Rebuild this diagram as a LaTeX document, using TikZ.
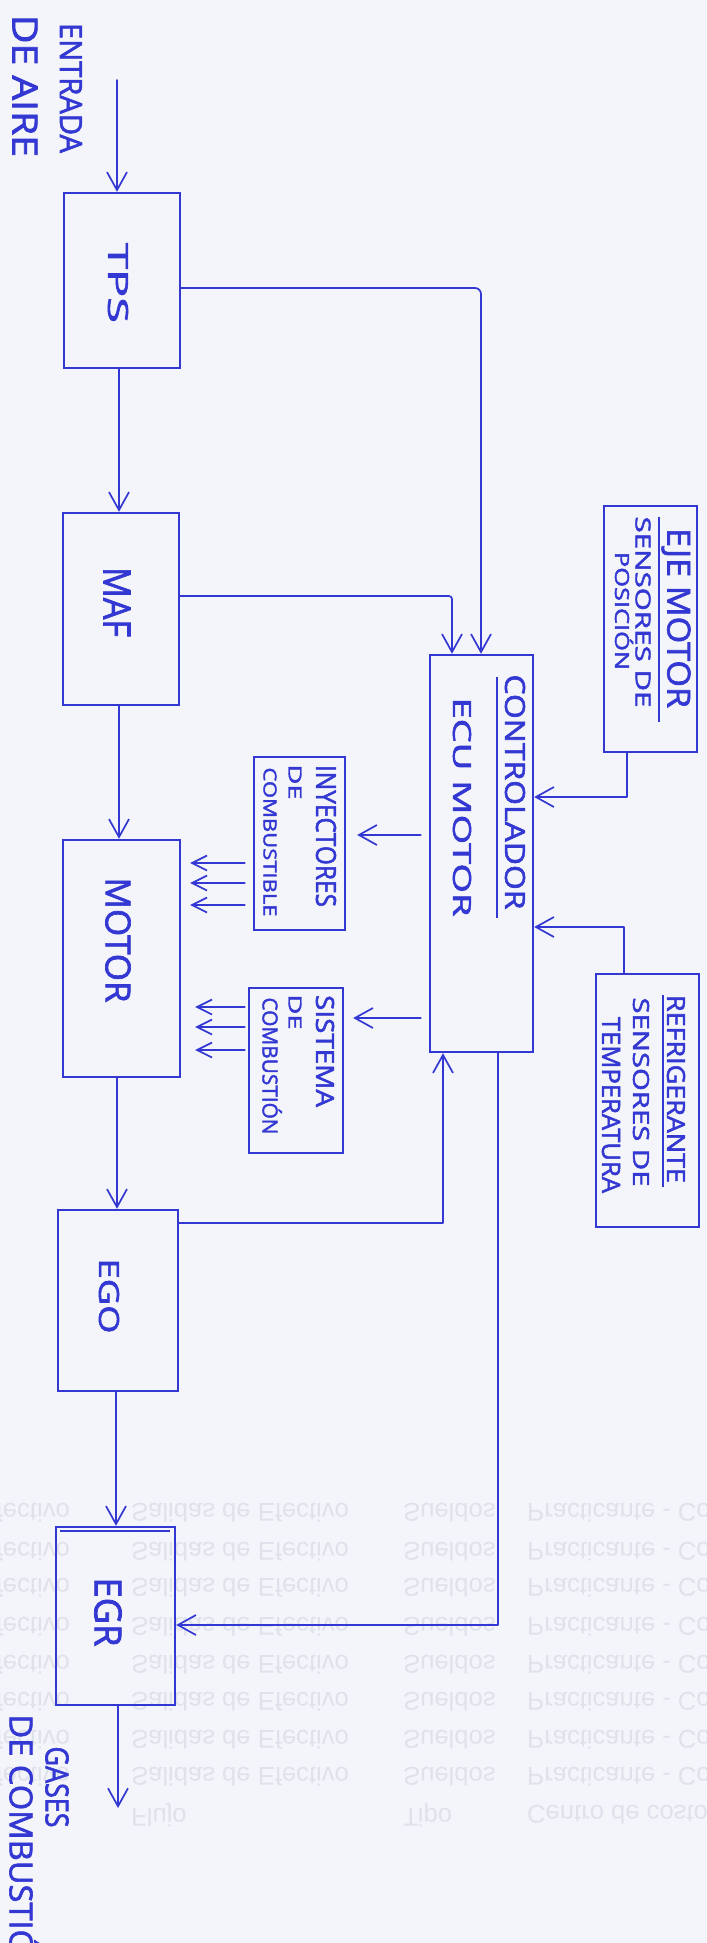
\documentclass[tikz,border=0pt]{standalone}
\usepackage{fontspec}
\setmainfont{Open Sans}[FakeBold=2]
\newfontfamily\bleedfont{Liberation Sans}
\usetikzlibrary{arrows.meta}
\definecolor{ink}{RGB}{52,56,210}
\definecolor{paper}{RGB}{244,245,251}
\definecolor{ghost}{RGB}{224,226,235}
\newcommand{\hw}[3]{\resizebox{#1bp}{#2bp}{#3}}
\newcommand{\flipv}[1]{\scalebox{1}[-1]{#1}}
\begin{document}
\begin{tikzpicture}[x=1bp,y=-1bp,
  box/.style={draw=ink, line width=2.4bp, inner sep=0pt, rectangle},
  conn/.style={draw=ink, line width=1.7bp, line cap=round, line join=round,
    -{Straight Barb[length=18bp,width=20bp]}},
  small/.style={draw=ink, line width=1.7bp, line cap=round,
    -{Straight Barb[length=15bp,width=15bp]}},
  rulel/.style={draw=ink, line width=1.6bp},
  txt/.style={rotate=-90, inner sep=0pt, text=ink},
  ghosttxt/.style={inner sep=0pt, text=ghost,
    font=\bleedfont\fontsize{25.6bp}{30bp}\selectfont}]
\useasboundingbox (0,0) rectangle (707,1943);
\fill[paper] (0,0) rectangle (707,1943);

% faint show-through of the back of the sheet
\foreach \yy [count=\i] in {1513,1552,1588,1627,1665,1702,1740,1777}{
  \node[ghosttxt, anchor=east] (ga\i) at (70,\yy) {\flipv{Efectivo}};
  \node[ghosttxt, anchor=west] (gb\i) at (131,\yy) {\flipv{Salidas de Efectivo}};
  \node[ghosttxt, anchor=west] (gc\i) at (403,\yy) {\flipv{Sueldos}};
  \node[ghosttxt, anchor=west] (gd\i) at (527,\yy) {\flipv{Practicante - Co}};
}
\node[ghosttxt, anchor=west] (gh1) at (131,1815) {\flipv{Flujo}};
\node[ghosttxt, anchor=west] (gh2) at (403,1815) {\flipv{Tipo}};
\node[ghosttxt, anchor=west] (gh3) at (527,1815) {\flipv{Centro de costo}};

% boxes
\node[box, minimum width=116bp, minimum height=175bp] (tps) at (122,280.5) {};
\node[box, minimum width=116bp, minimum height=192bp] (maf) at (121,609) {};
\node[box, minimum width=117bp, minimum height=237bp] (motor) at (121.5,958.5) {};
\node[box, minimum width=120bp, minimum height=181bp] (ego) at (118,1300.5) {};
\node[box, minimum width=119bp, minimum height=178bp] (egr) at (115.5,1616) {};
\node[box, minimum width=103bp, minimum height=397bp] (ecu) at (481.5,853.5) {};
\node[box, minimum width=93bp, minimum height=246bp] (eje) at (650.5,629) {};
\node[box, minimum width=103bp, minimum height=253bp] (ref) at (647.5,1100.5) {};
\node[box, minimum width=91bp, minimum height=173bp] (iny) at (299.5,843.5) {};
\node[box, minimum width=94bp, minimum height=165bp] (sis) at (296,1070.5) {};
\draw[ink, line width=1.5bp] (60,1531) -- (170,1531);

% rules inside boxes
\draw[rulel] (497,677) -- (497,918);
\draw[rulel] (659,517) -- (659,722);
\draw[rulel] (663,995) -- (663,1187);

% texts
\node[txt] (t1) at (71,88) {\hw{130}{22}{ENTRADA}};
\node[txt] (t2) at (25,86) {\hw{142}{25}{DE AIRE}};
\node[txt] (ttps) at (118,283) {\hw{80}{20}{TPS}};
\node[txt] (tmaf) at (117,602) {\hw{70}{27}{MAF}};
\node[txt] (tmot) at (118,940) {\hw{125}{25}{MOTOR}};
\node[txt] (tego) at (109,1296) {\hw{75}{20}{EGO}};
\node[txt] (tegr) at (108,1612) {\hw{69}{27}{EGR}};
\node[txt] (tc1) at (515,792) {\hw{235}{20}{CONTROLADOR}};
\node[txt] (tc2) at (462,807) {\hw{219}{18}{ECU MOTOR}};
\node[txt] (te1) at (676,618) {\hw{180}{23}{EJE MOTOR}};
\node[txt] (te2) at (643,612) {\hw{191}{15}{SENSORES DE}};
\node[txt] (te3) at (622,611) {\hw{118}{14}{POSICI\smash{Ó}N}};
\node[txt] (ti1) at (326,836) {\hw{142}{20}{INYECTORES}};
\node[txt] (ti2) at (295,782) {\hw{35}{13}{DE}};
\node[txt] (ti3) at (270,842) {\hw{149}{13}{COMBUSTIBLE}};
\node[txt] (ts1) at (325,1051) {\hw{112}{18}{SISTEMA}};
\node[txt] (ts2) at (295,1012) {\hw{35}{13}{DE}};
\node[txt] (ts3) at (270,1066) {\hw{137}{15}{COMBUSTI\smash{Ó}N}};
\node[txt] (tr1) at (676,1089) {\hw{188}{18}{REFRIGERANTE}};
\node[txt] (tr2) at (641,1092) {\hw{189}{16}{SENSORES DE}};
\node[txt] (tr3) at (611,1105) {\hw{176}{18}{TEMPERATURA}};
\node[txt] (tg1) at (57,1787) {\hw{81}{23}{GASES}};
\node[txt] (tg2) at (21,1847) {\hw{265}{23}{DE COMBUSTI\smash{Ó}N}};

% connectors
\coordinate (airin) at (117,80);
\coordinate (gasout) at (118,1808);
\draw[conn] (airin) -- (airin |- tps.north);
\draw[conn] (tps.south -| 119,0) -- (maf.north -| 119,0);
\draw[conn, rounded corners=6bp] (tps.east |- 0,288) -| (ecu.north -| 481,0);
\draw[conn, rounded corners=3bp] (maf.east |- 0,596) -| (ecu.north -| 452,0);
\draw[conn] (maf.south -| 119,0) -- (motor.north -| 119,0);
\draw[conn] (motor.south -| 117,0) -- (ego.north -| 117,0);
\draw[conn] (ego.south -| 116,0) -- (egr.north -| 116,0);
\draw[conn] (egr.south -| 118,0) -- (gasout);
\draw[conn] (ego.east |- 0,1223) -| (ecu.south -| 443,0);
\draw[conn] (ecu.south -| 498,0) |- (egr.east |- 0,1625);
\draw[conn] (eje.south -| 627,0) |- (ecu.east |- 0,797);
\draw[conn] (ref.north -| 624,0) |- (ecu.east |- 0,927);
\draw[conn, shorten <=8bp, shorten >=11bp] (ecu.west |- 0,835) -- (iny.east |- 0,835);
\draw[conn, shorten <=8bp, shorten >=9bp] (ecu.west |- 0,1018) -- (sis.east |- 0,1018);
\foreach \yy in {863,883,905}
  \draw[small, shorten <=8bp, shorten >=9bp] (iny.west |- 0,\yy) -- (motor.east |- 0,\yy);
\foreach \yy in {1007,1027,1050}
  \draw[small, shorten <=3bp, shorten >=14bp] (sis.west |- 0,\yy) -- (motor.east |- 0,\yy);
\end{tikzpicture}
\end{document}
